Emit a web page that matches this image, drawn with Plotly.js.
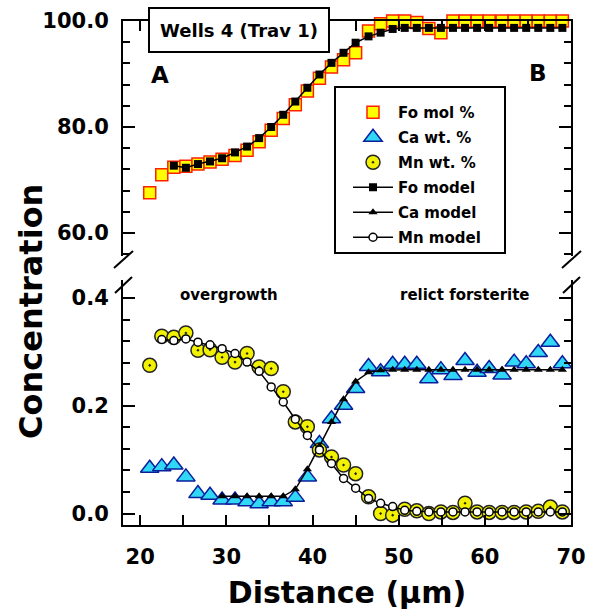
<!DOCTYPE html>
<html><head><meta charset="utf-8">
<script src="https://cdn.plot.ly/plotly-3.0.1.min.js"></script>
<style>html,body{margin:0;padding:0;background:#fff}#chart{width:594px;height:613px}</style>
</head><body><div id="chart"></div>
<script>
// Shared sampling positions along the traverse (µm)
const distance = [21.1, 22.5, 23.9, 25.3, 26.7, 28.1, 29.5, 31.0, 32.4, 33.8, 35.2, 36.6, 38.0, 39.4, 40.8, 42.2, 43.6, 45.0, 46.5, 47.9, 49.3, 50.7, 52.1, 53.5, 54.9, 56.3, 57.7, 59.1, 60.5, 62.0, 63.4, 64.8, 66.2, 67.6, 69.0];

// Forsterite (mol %) measured and modelled
const foMol = [67.6, 71.0, 72.4, 72.6, 73.0, 73.4, 73.9, 74.6, 75.6, 77.2, 79.4, 81.6, 84.2, 86.8, 89.2, 91.3, 92.7, 94.0, 98.1, 99.5, 100.0, 100.0, 99.7, 98.6, 97.8, 100.0, 100.0, 100.0, 100.0, 100.0, 100.0, 100.0, 100.0, 100.0, 100.0];
const foModel = [null, null, 72.7, 72.3, 73.0, 73.5, 74.1, 75.2, 76.3, 77.9, 80.0, 82.3, 84.8, 87.4, 89.9, 92.1, 94.0, 95.9, 97.1, 97.8, 98.5, 98.7, 98.7, 98.7, 98.7, 98.7, 98.7, 98.7, 98.7, 98.7, 98.7, 98.7, 98.7, 98.7, 98.7];

// Ca (wt. %) measured and modelled
const caWt = [0.084, 0.087, 0.090, 0.068, 0.037, 0.034, 0.025, 0.025, 0.022, 0.018, 0.022, 0.022, 0.030, 0.068, 0.130, 0.176, 0.201, 0.232, 0.273, 0.263, 0.277, 0.277, 0.277, 0.250, 0.267, 0.256, 0.284, 0.262, 0.269, 0.257, 0.281, 0.278, 0.299, 0.318, 0.278];
const caModel = [null, null, null, null, null, null, 0.032, 0.032, 0.032, 0.032, 0.032, 0.032, 0.045, 0.082, 0.125, 0.170, 0.212, 0.245, 0.262, 0.266, 0.267, 0.267, 0.267, 0.267, 0.267, 0.267, 0.267, 0.267, 0.267, 0.267, 0.267, 0.267, 0.267, 0.267, 0.267];

// Mn (wt. %) measured and modelled
const mnWt = [0.275, 0.329, 0.327, 0.335, 0.303, 0.304, 0.290, 0.281, 0.297, 0.272, 0.269, 0.226, 0.170, 0.161, 0.118, 0.105, 0.090, 0.074, 0.031, 0.000, -0.003, 0.008, 0.005, 0.000, 0.003, 0.002, 0.019, 0.003, 0.002, 0.002, 0.002, 0.003, 0.004, 0.012, 0.003];
const mnModel = [null, 0.323, 0.321, 0.324, 0.318, 0.313, 0.306, 0.297, 0.281, 0.264, 0.235, 0.207, 0.175, 0.145, 0.118, 0.093, 0.065, 0.047, 0.028, 0.019, 0.013, 0.006, 0.004, 0.003, 0.003, 0.003, 0.003, 0.003, 0.003, 0.003, 0.003, 0.003, 0.003, 0.003, 0.003];

const seriesNames = ['Fo mol %', 'Ca wt. %', 'Mn wt. %', 'Fo model', 'Ca model', 'Mn model'];
const xTitle = 'Distance (μm)';
const yTitle = 'Concentration';
const chartLabel = 'Wells 4 (Trav 1)';

const FF = 'DejaVu Sans, Arial, sans-serif';
const W = 594, H = 613, ML = 123, MR = 23, MT = 21, MB = 88;
const PW = W - ML - MR, PH = H - MT - MB;
const px = v => (v - ML) / PW;
const py = v => (H - MB - v) / PH;

const traces = [
  {name: seriesNames[0], x: distance, y: foMol, xaxis: 'x2', yaxis: 'y2', mode: 'markers', cliponaxis: false,
   legendgroup: 'a', marker: {symbol: 'square', size: 12, color: '#ffff00', line: {color: '#ff2000', width: 1.5}}},
  {name: seriesNames[1], x: distance, y: caWt, xaxis: 'x', yaxis: 'y', mode: 'markers', cliponaxis: false,
   legendgroup: 'b', marker: {symbol: 'triangle-up', size: 16, color: '#30d8f5', line: {color: '#0a1e9c', width: 1.5}}},
  {name: seriesNames[2], x: distance, y: mnWt, xaxis: 'x', yaxis: 'y', mode: 'markers', cliponaxis: false,
   legendgroup: 'c', marker: {symbol: 'circle-dot', size: 14, color: '#f2f200', line: {color: '#222', width: 1.5}}},
  {name: seriesNames[3], x: distance, y: foModel, xaxis: 'x2', yaxis: 'y2', mode: 'lines+markers', cliponaxis: false,
   legendgroup: 'd', line: {color: '#000', width: 1.5}, marker: {symbol: 'square', size: 8, color: '#000'}},
  {name: seriesNames[4], x: distance, y: caModel, xaxis: 'x', yaxis: 'y', mode: 'lines+markers', cliponaxis: false,
   legendgroup: 'e', line: {color: '#000', width: 1.5}, marker: {symbol: 'triangle-up', size: 8, color: '#000'}},
  {name: seriesNames[5], x: distance, y: mnModel, xaxis: 'x', yaxis: 'y', mode: 'lines+markers', cliponaxis: false,
   legendgroup: 'f', line: {color: '#000', width: 1.5}, marker: {symbol: 'circle', size: 8, color: '#fff', line: {color: '#000', width: 1.5}}}
];

const tickFont = {family: FF, size: 21, weight: 'bold', color: '#000'};
const axBase = {showline: true, linewidth: 2, linecolor: '#000', ticks: 'inside', tickwidth: 2, tickcolor: '#000',
  showgrid: false, zeroline: false, tickfont: tickFont};

const slash = (x0, y0, x1, y1) => ({type: 'line', xref: 'paper', yref: 'paper', x0: px(x0), y0: py(y0), x1: px(x1), y1: py(y1), line: {color: '#000', width: 2}});
const label = (x, y, text, size, extra) => Object.assign({xref: 'paper', yref: 'paper', x: px(x), y: py(y), text: text,
  showarrow: false, xanchor: 'center', yanchor: 'middle', font: {family: FF, size: size, weight: 'bold', color: '#000'}}, extra || {});

const layout = {
  width: W, height: H, margin: {l: ML, r: MR, t: MT, b: MB}, paper_bgcolor: '#fff', plot_bgcolor: '#fff',
  font: {family: FF, color: '#000'},
  showlegend: true,
  legend: {x: px(348), y: py(96), xanchor: 'left', yanchor: 'top', bgcolor: 'rgba(0,0,0,0)', borderwidth: 0,
    font: {family: FF, size: 15, weight: 'bold', color: '#000'}, itemwidth: 40, traceorder: 'grouped', tracegroupgap: 2.5,
    itemclick: false, itemdoubleclick: false},
  xaxis: Object.assign({}, axBase, {domain: [0, 1], anchor: 'y', range: [18, 70], tick0: 0, dtick: 10, ticklen: 10,
    minor: {dtick: 5, ticks: 'inside', ticklen: 10, tickwidth: 2, tickcolor: '#000'}, ticklabelstandoff: 12,
    title: {text: xTitle, font: {family: FF, size: 30, weight: 'bold', color: '#000'}, standoff: 14}}),
  xaxis2: Object.assign({}, axBase, {domain: [0, 1], anchor: 'y2', side: 'top', range: [18, 70], tick0: 0, dtick: 10, ticklen: 10,
    minor: {dtick: 5, ticks: 'inside', ticklen: 10, tickwidth: 2, tickcolor: '#000'}, showticklabels: false}),
  yaxis: Object.assign({}, axBase, {domain: [0, py(280)], anchor: 'x', range: [-0.0213, 0.4334], tick0: 0, dtick: 0.2,
    tickformat: '.1f', ticklen: 12, mirror: 'ticks', ticklabelstandoff: 8,
    minor: {dtick: 0.04, ticks: 'inside', ticklen: 7, tickwidth: 2, tickcolor: '#000'}}),
  yaxis2: Object.assign({}, axBase, {domain: [py(256), 1], anchor: 'x2', range: [55.65, 100], tick0: 0, dtick: 20,
    tickformat: '.1f', ticklen: 12, mirror: 'ticks', ticklabelstandoff: 8,
    minor: {dtick: 4, ticks: 'inside', ticklen: 7, tickwidth: 2, tickcolor: '#000'}}),
  shapes: [
    {type: 'rect', xref: 'paper', yref: 'paper', x0: px(335), x1: px(505), y0: py(253), y1: py(87), line: {color: '#000', width: 2}, fillcolor: 'rgba(0,0,0,0)', layer: 'above'},
    slash(114, 268, 133, 251), slash(115, 293, 132, 277),
    slash(562, 268, 581, 251), slash(563, 293, 580, 277)
  ],
  annotations: [
    label(238.5, 30, chartLabel, 18, {bgcolor: '#fff', bordercolor: '#000', borderwidth: 2, borderpad: 1, width: 176, height: 40}),
    label(160, 75, 'A', 23),
    label(538, 73, 'B', 23),
    label(229, 295, 'overgrowth', 15),
    label(465, 295, 'relict forsterite', 15),
    label(31, 312, yTitle, 32, {textangle: -90})
  ]
};

Plotly.newPlot('chart', traces, layout, {displayModeBar: false, staticPlot: true});
</script>
</body></html>
